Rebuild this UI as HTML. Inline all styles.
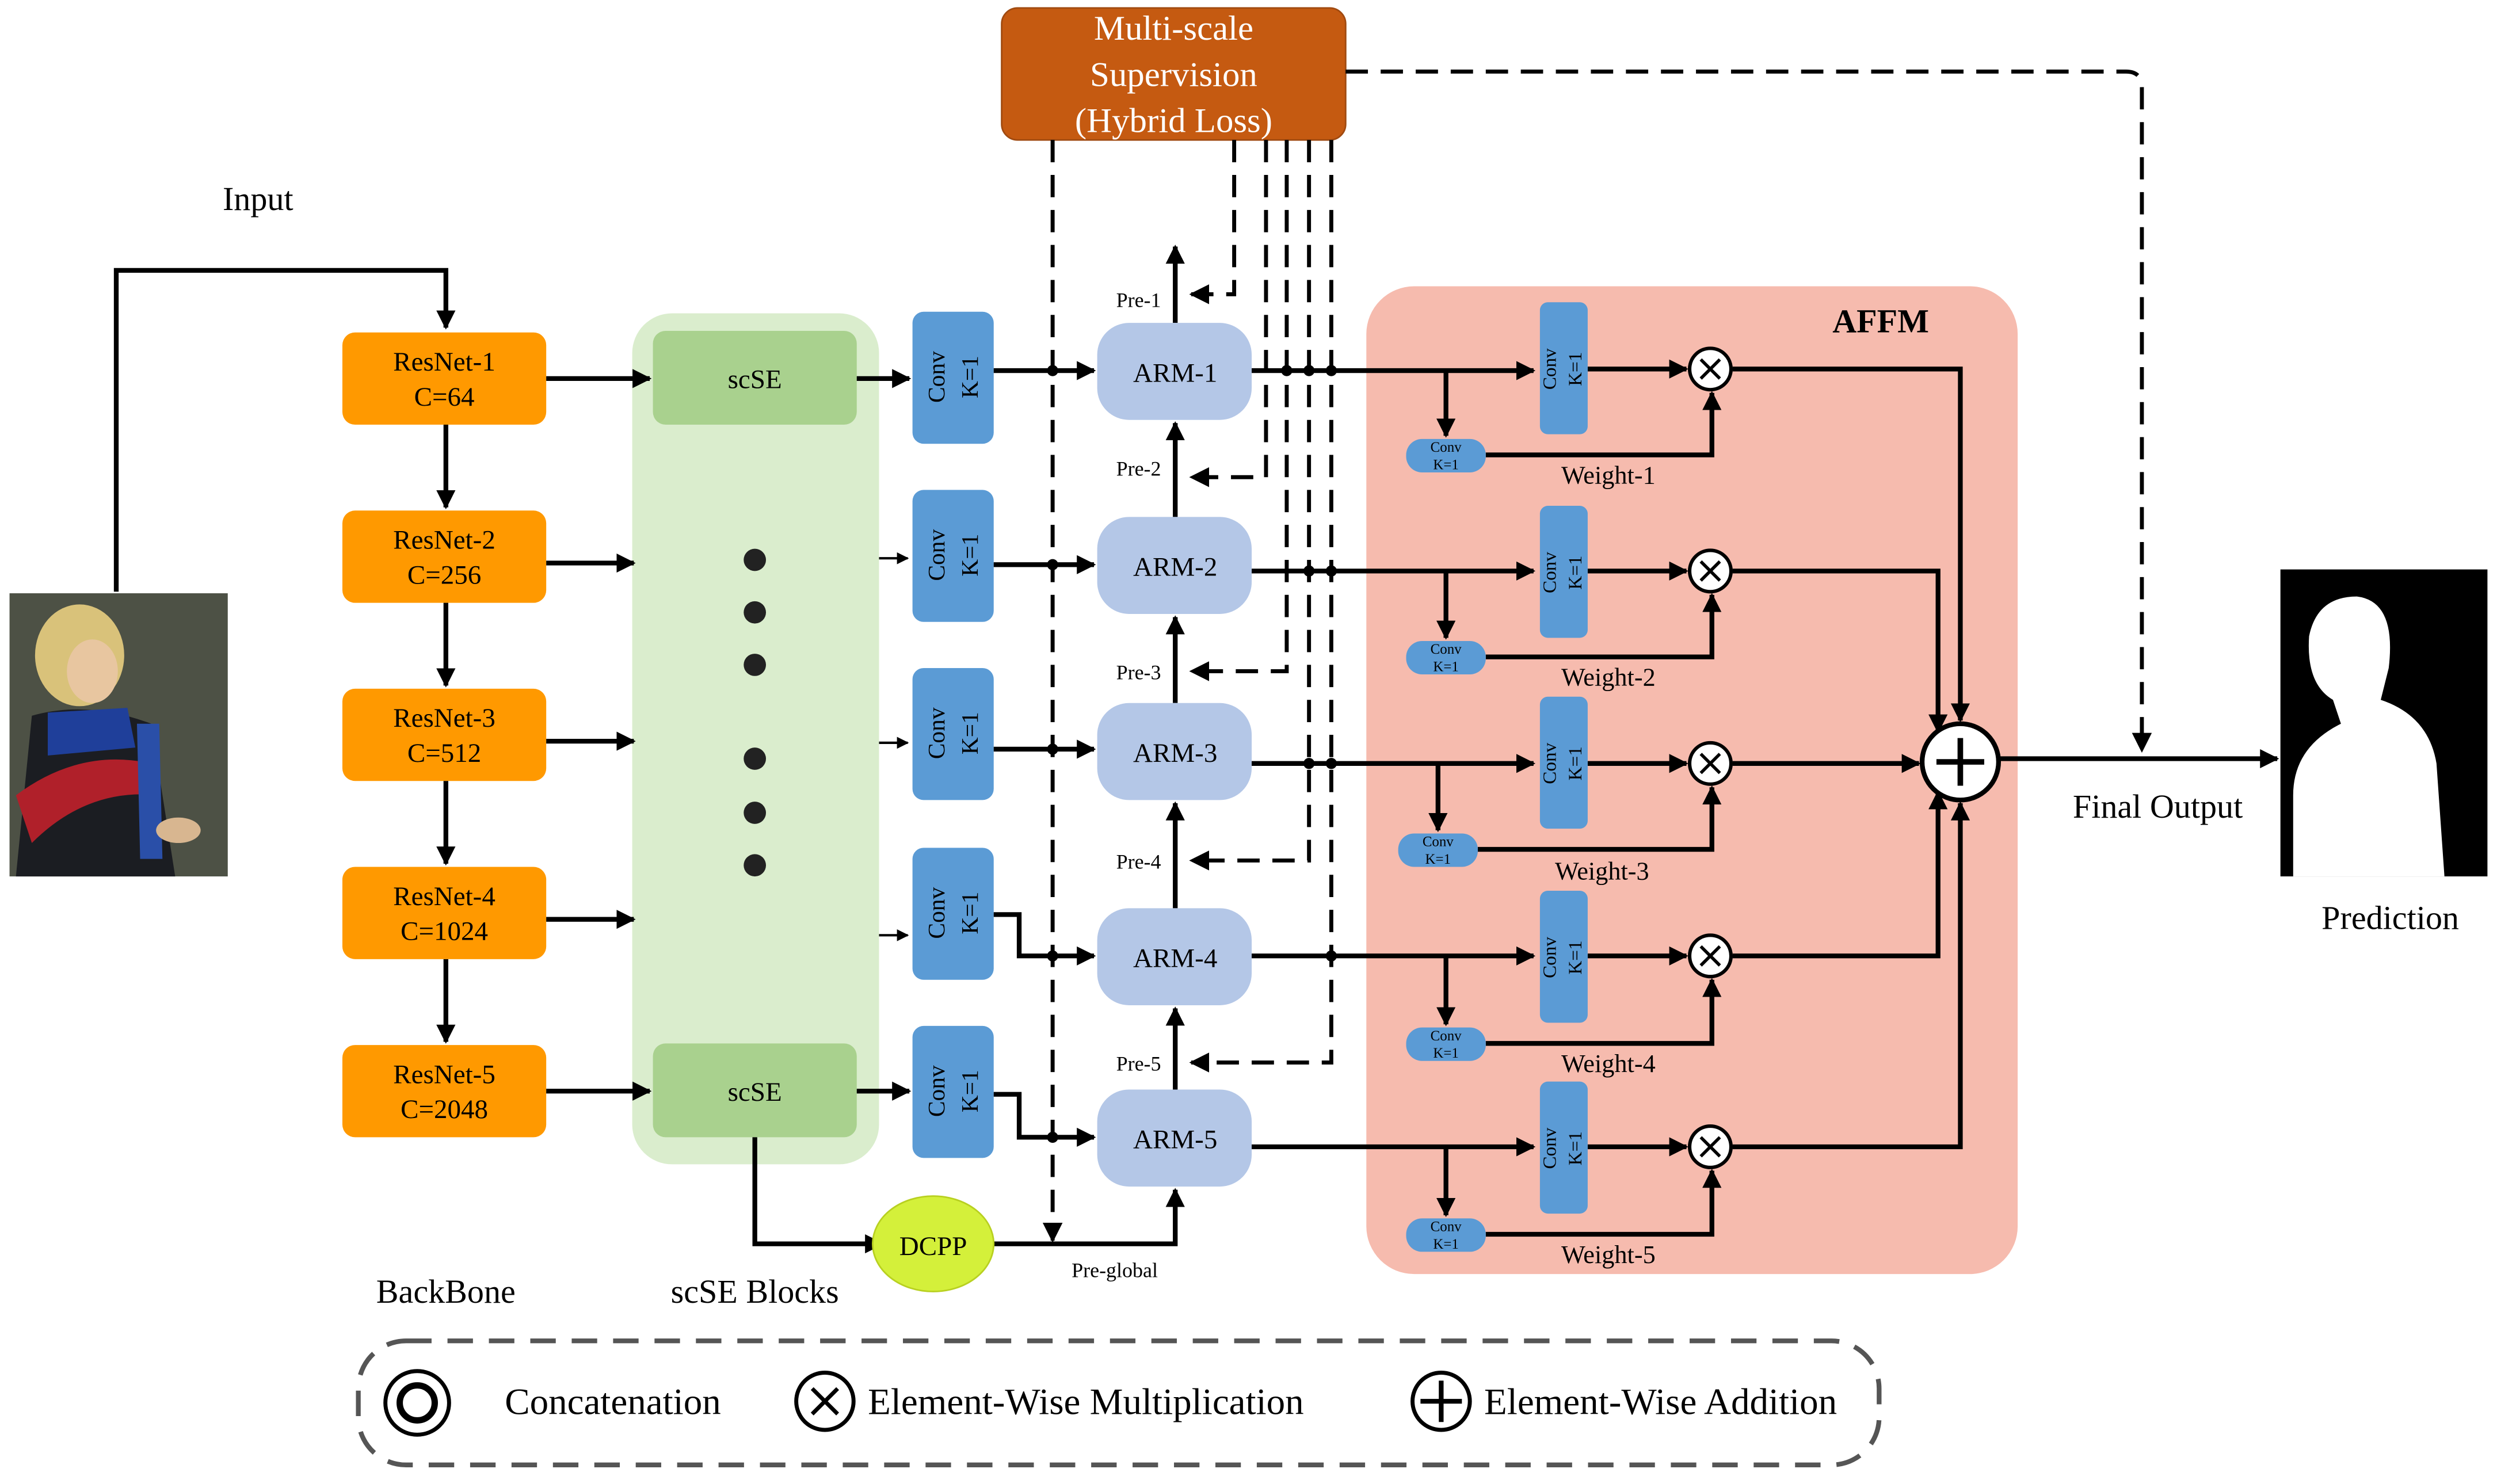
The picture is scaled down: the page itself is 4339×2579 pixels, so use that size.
<!DOCTYPE html>
<html><head><meta charset="utf-8">
<style>
html,body{margin:0;padding:0;background:#fff;}
svg{display:block;}
text{font-family:"Liberation Serif",serif;}
.s{font-family:"Liberation Sans",sans-serif;}
</style></head>
<body>
<svg width="4339" height="2579" viewBox="0 0 1568 933" preserveAspectRatio="none" xmlns="http://www.w3.org/2000/svg">
<defs>
<marker id="a" viewBox="0 0 10 10" refX="9" refY="5" markerWidth="4" markerHeight="4" orient="auto-start-reverse"><path d="M0,0 L10,5 L0,10 z" fill="#000"/></marker>
<marker id="b" viewBox="0 0 10 10" refX="9" refY="5" markerWidth="5" markerHeight="5" orient="auto"><path d="M0,0 L10,5 L0,10 z" fill="#000"/></marker>
</defs>
<rect width="1568" height="933" fill="#fff"/>

<rect x="397" y="197" width="155" height="535" rx="25" fill="#DAEDCD"/>
<rect x="858" y="180" width="409" height="621" rx="30" fill="#F6BBAE"/>
<text x="1181" y="209" font-size="21" font-weight="bold" text-anchor="middle">AFFM</text>

<text x="162" y="132" font-size="21" text-anchor="middle">Input</text>
<path d="M73,372 V170 H280 V206" fill="none" stroke="#000" stroke-width="3" marker-end="url(#a)"/>
<rect x="6" y="373" width="137" height="178" fill="#3a3f35"/>
<rect x="6" y="373" width="137" height="178" fill="#6b6d5e" opacity="0.4"/>
<ellipse cx="50" cy="412" rx="28" ry="32" fill="#d9c27a"/>
<ellipse cx="58" cy="422" rx="16" ry="20" fill="#e8c6a0"/>
<path d="M20,450 Q55,440 95,455 L110,551 L10,551 Z" fill="#1b1d22"/>
<path d="M30,448 L80,445 L85,470 L30,475 Z" fill="#1f3f9a"/>
<path d="M10,500 Q50,470 95,480 L100,500 Q55,495 20,530 Z" fill="#b0202a"/>
<path d="M86,455 L100,455 L102,540 L88,540 Z" fill="#2a4fa8"/>
<ellipse cx="112" cy="522" rx="14" ry="8" fill="#d8b690"/>

<g font-size="17" text-anchor="middle">
<rect x="215" y="209" width="128" height="58" rx="8" fill="#FF9900"/><text x="279" y="233">ResNet-1</text><text x="279" y="255">C=64</text>
<rect x="215" y="321" width="128" height="58" rx="8" fill="#FF9900"/><text x="279" y="345">ResNet-2</text><text x="279" y="367">C=256</text>
<rect x="215" y="433" width="128" height="58" rx="8" fill="#FF9900"/><text x="279" y="457">ResNet-3</text><text x="279" y="479">C=512</text>
<rect x="215" y="545" width="128" height="58" rx="8" fill="#FF9900"/><text x="279" y="569">ResNet-4</text><text x="279" y="591">C=1024</text>
<rect x="215" y="657" width="128" height="58" rx="8" fill="#FF9900"/><text x="279" y="681">ResNet-5</text><text x="279" y="703">C=2048</text>
</g>
<g stroke="#000" stroke-width="3" fill="none" marker-end="url(#a)">
<path d="M280,267 V319"/><path d="M280,379 V431"/><path d="M280,491 V543"/><path d="M280,603 V655"/>
<path d="M343,238 H408"/><path d="M343,354 H398"/><path d="M343,466 H398"/><path d="M343,578 H398"/><path d="M343,686 H408"/>
</g>

<rect x="410" y="208" width="128" height="59" rx="8" fill="#A9D18E"/><text x="474" y="244" font-size="17" text-anchor="middle">scSE</text>
<rect x="410" y="656" width="128" height="59" rx="8" fill="#A9D18E"/><text x="474" y="692" font-size="17" text-anchor="middle">scSE</text>
<g fill="#222"><circle cx="474" cy="352" r="7"/><circle cx="474" cy="385" r="7"/><circle cx="474" cy="418" r="7"/><circle cx="474" cy="477" r="7"/><circle cx="474" cy="511" r="7"/><circle cx="474" cy="544" r="7"/></g>
<g stroke="#000" stroke-width="1.5" fill="none" marker-end="url(#b)">
<path d="M552,351 H570"/><path d="M552,467 H570"/><path d="M552,588 H570"/>
</g>
<g stroke="#000" stroke-width="3" fill="none" marker-end="url(#a)">
<path d="M538,238 H571"/><path d="M538,686 H571"/>
</g>

<g fill="#5B9BD5">
<rect x="573" y="196" width="51" height="83" rx="7"/>
<rect x="573" y="308" width="51" height="83" rx="7"/>
<rect x="573" y="420" width="51" height="83" rx="7"/>
<rect x="573" y="533" width="51" height="83" rx="7"/>
<rect x="573" y="645" width="51" height="83" rx="7"/>
</g>
<g class="s" font-size="15" text-anchor="middle">
<text transform="translate(593,237) rotate(-90)">Conv</text><text transform="translate(614,237) rotate(-90)">K=1</text>
<text transform="translate(593,349) rotate(-90)">Conv</text><text transform="translate(614,349) rotate(-90)">K=1</text>
<text transform="translate(593,461) rotate(-90)">Conv</text><text transform="translate(614,461) rotate(-90)">K=1</text>
<text transform="translate(593,574) rotate(-90)">Conv</text><text transform="translate(614,574) rotate(-90)">K=1</text>
<text transform="translate(593,686) rotate(-90)">Conv</text><text transform="translate(614,686) rotate(-90)">K=1</text>
</g>

<rect x="629" y="5" width="216" height="83" rx="10" fill="#C55A11" stroke="#a04a10"/>
<g fill="#fff" font-size="22" text-anchor="middle"><text x="737" y="25">Multi-scale</text><text x="737" y="54">Supervision</text><text x="737" y="83">(Hybrid Loss)</text></g>

<g stroke="#000" stroke-width="2.5" fill="none" stroke-dasharray="14,8" marker-end="url(#b)">
<path d="M661,88 V780"/>
<path d="M775,88 V185 H748"/>
<path d="M795,88 V300 H748"/>
<path d="M808,88 V422 H748"/>
<path d="M822,88 V541 H748"/>
<path d="M836,88 V668 H748"/>
<path d="M845,45 H1335 Q1345,45 1345,55 V472"/>
</g>

<g stroke="#000" stroke-width="3" fill="none" marker-end="url(#a)">
<path d="M624,233 H687"/><path d="M624,355 H687"/><path d="M624,471 H687"/>
<path d="M624,575 H640 V601 H687"/><path d="M624,688 H640 V715 H687"/>
<path d="M474,715 V782 H554"/>
<path d="M616,782 H738 V748"/>
<path d="M738,203 V155"/><path d="M738,325 V266"/><path d="M738,442 V388"/><path d="M738,571 V505"/><path d="M738,685 V634"/>
</g>
<g fill="#000"><circle cx="661" cy="233" r="3.5"/><circle cx="661" cy="355" r="3.5"/><circle cx="661" cy="471" r="3.5"/><circle cx="661" cy="601" r="3.5"/><circle cx="661" cy="715" r="3.5"/></g>

<g font-size="17" text-anchor="middle">
<rect x="689" y="203" width="97" height="61" rx="20" fill="#B4C7E7"/><text x="738" y="240">ARM-1</text>
<rect x="689" y="325" width="97" height="61" rx="20" fill="#B4C7E7"/><text x="738" y="362">ARM-2</text>
<rect x="689" y="442" width="97" height="61" rx="20" fill="#B4C7E7"/><text x="738" y="479">ARM-3</text>
<rect x="689" y="571" width="97" height="61" rx="20" fill="#B4C7E7"/><text x="738" y="608">ARM-4</text>
<rect x="689" y="685" width="97" height="61" rx="20" fill="#B4C7E7"/><text x="738" y="722">ARM-5</text>
</g>
<g font-size="13" text-anchor="middle">
<text x="715" y="193">Pre-1</text><text x="715" y="299">Pre-2</text><text x="715" y="427">Pre-3</text><text x="715" y="546">Pre-4</text><text x="715" y="673">Pre-5</text><text x="700" y="803">Pre-global</text>
</g>
<ellipse cx="586" cy="782" rx="38" ry="30" fill="#D4F03A" stroke="#b8d020"/>
<text x="586" y="789" font-size="17" text-anchor="middle">DCPP</text>

<g stroke="#000" stroke-width="3" fill="none" marker-end="url(#a)">
<path d="M786,233 H963"/><path d="M786,359 H963"/><path d="M786,480 H963"/><path d="M786,601 H963"/><path d="M786,721 H963"/>
<path d="M908,233 V274"/><path d="M908,359 V401"/><path d="M903,480 V522"/><path d="M908,601 V644"/><path d="M908,721 V764"/>
<path d="M933,286 H1075 V247"/><path d="M933,413 H1075 V374"/><path d="M928,534 H1075 V495"/><path d="M933,656 H1075 V616"/><path d="M933,776 H1075 V736"/>
<path d="M997,232 H1059"/><path d="M997,359 H1059"/><path d="M997,480 H1059"/><path d="M997,601 H1059"/><path d="M997,721 H1059"/>
<path d="M1088,232 H1231 V453"/><path d="M1088,359 H1217 V460"/><path d="M1088,480 H1205"/><path d="M1088,601 H1217 V498"/><path d="M1088,721 H1231 V505"/>
<path d="M1255,477 H1430"/>
</g>
<g fill="#000"><circle cx="808" cy="233" r="3.5"/><circle cx="822" cy="233" r="3.5"/><circle cx="836" cy="233" r="3.5"/><circle cx="822" cy="359" r="3.5"/><circle cx="836" cy="359" r="3.5"/><circle cx="822" cy="480" r="3.5"/><circle cx="836" cy="480" r="3.5"/><circle cx="836" cy="601" r="3.5"/></g>

<g fill="#5B9BD5">
<rect x="967" y="190" width="30" height="83" rx="5"/><rect x="967" y="318" width="30" height="83" rx="5"/><rect x="967" y="438" width="30" height="83" rx="5"/><rect x="967" y="560" width="30" height="83" rx="5"/><rect x="967" y="680" width="30" height="83" rx="5"/>
<rect x="883" y="276" width="50" height="21" rx="10"/><rect x="883" y="403" width="50" height="21" rx="10"/><rect x="878" y="524" width="50" height="21" rx="10"/><rect x="883" y="646" width="50" height="21" rx="10"/><rect x="883" y="766" width="50" height="21" rx="10"/>
</g>
<g class="s" font-size="12" text-anchor="middle">
<text transform="translate(977,232) rotate(-90)">Conv</text><text transform="translate(993,232) rotate(-90)">K=1</text>
<text transform="translate(977,360) rotate(-90)">Conv</text><text transform="translate(993,360) rotate(-90)">K=1</text>
<text transform="translate(977,480) rotate(-90)">Conv</text><text transform="translate(993,480) rotate(-90)">K=1</text>
<text transform="translate(977,602) rotate(-90)">Conv</text><text transform="translate(993,602) rotate(-90)">K=1</text>
<text transform="translate(977,722) rotate(-90)">Conv</text><text transform="translate(993,722) rotate(-90)">K=1</text>
</g>
<g font-size="9" text-anchor="middle">
<text x="908" y="284">Conv</text><text x="908" y="295">K=1</text>
<text x="908" y="411">Conv</text><text x="908" y="422">K=1</text>
<text x="903" y="532">Conv</text><text x="903" y="543">K=1</text>
<text x="908" y="654">Conv</text><text x="908" y="665">K=1</text>
<text x="908" y="774">Conv</text><text x="908" y="785">K=1</text>
</g>
<g font-size="16" text-anchor="middle">
<text x="1010" y="304">Weight-1</text><text x="1010" y="431">Weight-2</text><text x="1006" y="553">Weight-3</text><text x="1010" y="674">Weight-4</text><text x="1010" y="794">Weight-5</text>
</g>
<g stroke="#000" stroke-width="2.2" fill="#fff">
<circle cx="1074" cy="232" r="13"/><circle cx="1074" cy="359" r="13"/><circle cx="1074" cy="480" r="13"/><circle cx="1074" cy="601" r="13"/><circle cx="1074" cy="721" r="13"/>
</g>
<g stroke="#000" stroke-width="2">
<path d="M1068,226 L1080,238 M1080,226 L1068,238"/><path d="M1068,353 L1080,365 M1080,353 L1068,365"/><path d="M1068,474 L1080,486 M1080,474 L1068,486"/><path d="M1068,595 L1080,607 M1080,595 L1068,607"/><path d="M1068,715 L1080,727 M1080,715 L1068,727"/>
</g>
<circle cx="1231" cy="479" r="24" fill="#fff" stroke="#000" stroke-width="3"/>
<path d="M1231,464 V494 M1216,479 H1246" stroke="#000" stroke-width="3.5"/>
<text x="1355" y="514" font-size="21" text-anchor="middle">Final Output</text>

<rect x="1432" y="358" width="130" height="193" fill="#000"/>
<path d="M1440,551 L1440,500 Q1440,470 1470,455 L1465,440 Q1448,430 1450,400 Q1455,375 1480,375 Q1505,378 1500,420 L1495,440 Q1525,450 1530,480 L1535,551 Z" fill="#fff"/>
<text x="1501" y="584" font-size="21" text-anchor="middle">Prediction</text>

<text x="280" y="819" font-size="21" text-anchor="middle">BackBone</text>
<text x="474" y="819" font-size="21" text-anchor="middle">scSE Blocks</text>

<rect x="225" y="843" width="955" height="78" rx="30" fill="none" stroke="#555" stroke-width="3" stroke-dasharray="16,10"/>
<circle cx="262" cy="882" r="20" fill="none" stroke="#000" stroke-width="2.5"/>
<circle cx="262" cy="882" r="11" fill="none" stroke="#000" stroke-width="4"/>
<text x="317" y="889" font-size="23.5">Concatenation</text>
<circle cx="518" cy="881" r="18" fill="none" stroke="#000" stroke-width="2.5"/>
<path d="M510,873 L526,889 M526,873 L510,889" stroke="#000" stroke-width="2.5"/>
<text x="545" y="889" font-size="23.5">Element-Wise Multiplication</text>
<circle cx="905" cy="881" r="18" fill="none" stroke="#000" stroke-width="2.5"/>
<path d="M905,868 V894 M892,881 H918" stroke="#000" stroke-width="3"/>
<text x="932" y="889" font-size="23.5">Element-Wise Addition</text>
</svg>
</body></html>
